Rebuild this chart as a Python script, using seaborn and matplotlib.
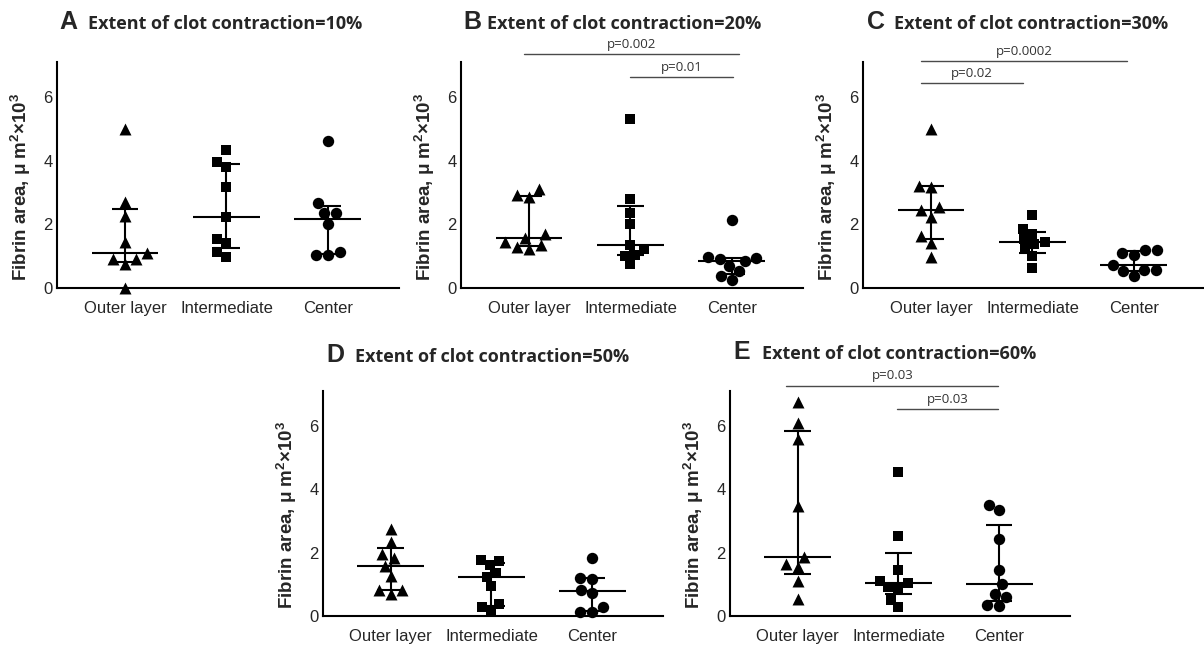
import numpy as np
import pandas as pd
import matplotlib
matplotlib.use("Agg")
import matplotlib.pyplot as plt
import seaborn as sns

# Clot regions and the marker used for each one
regions = ["Outer layer", "Intermediate", "Center"]
region_markers = ["^", "s", "o"]
marker_sizes = [8.6, 7.2, 8.2]

panel_letters = ["A", "B", "C", "D", "E"]
contraction_pct = [10, 20, 30, 50, 60]

# Fibrin area (µm² × 10³) for each region at each extent of contraction
a_outer = [5.0, 2.7, 2.25, 1.45, 1.1, 0.9, 0.75, 0.9, 0.0]
a_inter = [4.33, 3.97, 3.81, 3.16, 2.22, 1.53, 1.41, 1.13, 0.97]
a_center = [4.62, 2.66, 2.35, 2.37, 2.01, 1.13, 1.04, 1.04]

b_outer = [3.10, 2.87, 2.92, 1.58, 1.69, 1.34, 1.22, 1.30, 1.44]
b_inter = [5.32, 2.79, 2.35, 2.01, 1.36, 1.22, 1.04, 1.01, 0.75]
b_center = [2.14, 0.84, 0.94, 0.91, 0.96, 0.68, 0.52, 0.39, 0.24]

c_outer = [5.01, 3.22, 3.16, 2.54, 2.45, 2.24, 1.64, 1.41, 0.96]
c_inter = [2.30, 1.85, 1.70, 1.53, 1.39, 1.43, 1.22, 0.99, 0.63]
c_center = [1.20, 1.10, 1.04, 1.20, 0.73, 0.57, 0.39, 0.52, 0.57]

d_outer = [2.74, 2.32, 1.83, 1.96, 1.59, 1.26, 0.83, 0.83, 0.69]
d_inter = [1.77, 1.61, 1.75, 1.36, 1.23, 0.95, 0.375, 0.17, 0.27]
d_center = [1.82, 1.21, 1.18, 0.83, 0.73, 0.27, 0.135, 0.135]

e_outer = [6.75, 6.08, 5.59, 3.48, 1.64, 1.54, 1.87, 1.12, 0.55]
e_inter = [4.53, 2.52, 1.45, 1.12, 0.91, 0.89, 1.04, 0.52, 0.29]
e_center = [3.35, 3.51, 2.42, 1.45, 1.00, 0.60, 0.71, 0.31, 0.34]

panel_values = [
    [a_outer, a_inter, a_center],
    [b_outer, b_inter, b_center],
    [c_outer, c_inter, c_center],
    [d_outer, d_inter, d_center],
    [e_outer, e_inter, e_center],
]

# Pairwise comparisons: panel index, first region, second region, bar height, label
comparisons = [
    (1, 0, 2, 7.36, "p=0.002"),
    (1, 1, 2, 6.63, "p=0.01"),
    (2, 0, 2, 7.12, "p=0.0002"),
    (2, 0, 1, 6.44, "p=0.02"),
    (4, 0, 2, 7.27, "p=0.03"),
    (4, 1, 2, 6.54, "p=0.03"),
]
# horizontal trim of each comparison bar (start, end) in category units
comparison_trim = [(-0.05, 0.07), (0.0, 0.01), (-0.10, -0.07),
                   (-0.10, -0.09), (-0.11, -0.01), (-0.01, -0.01)]

W, H = 1204, 648
fig = plt.figure(figsize=(W / 100, H / 100), dpi=100)
sns.set_style("white")
plt.rcParams["font.family"] = ["Liberation Sans", "DejaVu Sans"]
plt.rcParams["mathtext.fontset"] = "custom"
plt.rcParams["mathtext.rm"] = "Liberation Sans"
plt.rcParams["mathtext.it"] = "Liberation Sans:italic"
plt.rcParams["mathtext.bf"] = "Liberation Sans:bold"

# axes boxes in pixels: left spine x, top y, bottom y, width
boxes = [
    (57, 62, 288, 342),
    (461, 62, 288, 342),
    (863, 62, 288, 342),
    (323, 391, 616, 340),
    (730, 391, 616, 340),
]
# title positions in pixels: letter x, text x, baseline y
title_pos = [
    (59, 88, 29),
    (463, 487, 29),
    (867, 894, 29),
    (326, 355, 362),
    (733, 762, 359),
]

LW = 1.5
ylabel = "Fibrin area, μ m$^{\\mathregular{2}}$×10$^{\\mathregular{3}}$"
for k, (x0, ytop, ybot, w) in enumerate(boxes):
    ax = fig.add_axes([x0 / W, 1 - ybot / H, w / W, (ybot - ytop) / H])
    vals = panel_values[k]
    df = pd.DataFrame({
        "region": np.repeat(regions, [len(v) for v in vals]),
        "area": np.concatenate(vals),
    })
    for i, reg in enumerate(regions):
        sns.swarmplot(data=df[df["region"] == reg], x="region", y="area",
                      order=regions, marker=region_markers[i], color="black",
                      size=marker_sizes[i], linewidth=0, ax=ax, zorder=3)
        q1, med, q3 = np.percentile(vals[i], [25, 50, 75], method="weibull")
        ax.vlines(i, q1, q3, color="black", lw=LW, zorder=4)
        ax.hlines([q1, q3], i - 0.13, i + 0.13, color="black", lw=LW, zorder=4)
        ax.hlines(med, i - 0.33, i + 0.33, color="black", lw=LW, zorder=4)
    for coll in ax.collections:
        coll.set_clip_on(False)

    ax.set_xlim(-0.67, 2.70)
    ax.set_ylim(0, 7.1)
    ax.set_yticks([0, 2, 4, 6])
    ax.set_xlabel("")
    ax.set_ylabel(ylabel, fontsize=13.5, fontweight="bold")
    ax.yaxis.set_label_coords(-24 / w, 0.45)
    ax.tick_params(axis="both", length=0, labelsize=12)
    ax.tick_params(axis="y", pad=3)
    ax.tick_params(axis="x", pad=18)
    for lab in ax.get_xticklabels():
        lab.set_va("baseline")
    for side in ("top", "right"):
        ax.spines[side].set_visible(False)
    for side in ("left", "bottom"):
        ax.spines[side].set_linewidth(LW)
        ax.spines[side].set_color("black")
    ax.set_facecolor("none")

    for (pk, r0, r1, yb, label), (t0, t1) in zip(comparisons, comparison_trim):
        if pk != k:
            continue
        xa, xb = r0 + t0, r1 + t1
        ax.plot([xa, xb], [yb, yb], color="#4a4a4a", lw=1.0, clip_on=False)
        ax.text((xa + xb) / 2, yb + 0.1, label, ha="center", va="bottom",
                fontsize=9.5, family=["Open Sans", "DejaVu Sans"],
                color="#333333", clip_on=False)

    lx, tx, by = title_pos[k]
    fig.text(lx / W, 1 - by / H, panel_letters[k], fontsize=18,
             fontweight="bold", ha="left", va="baseline")
    fig.text(tx / W, 1 - by / H,
             f"Extent of clot contraction={contraction_pct[k]}%",
             fontsize=13, fontweight="bold", ha="left", va="baseline",
             family=["Open Sans", "DejaVu Sans"])

fig.savefig("out.png", dpi=100, facecolor="white")
